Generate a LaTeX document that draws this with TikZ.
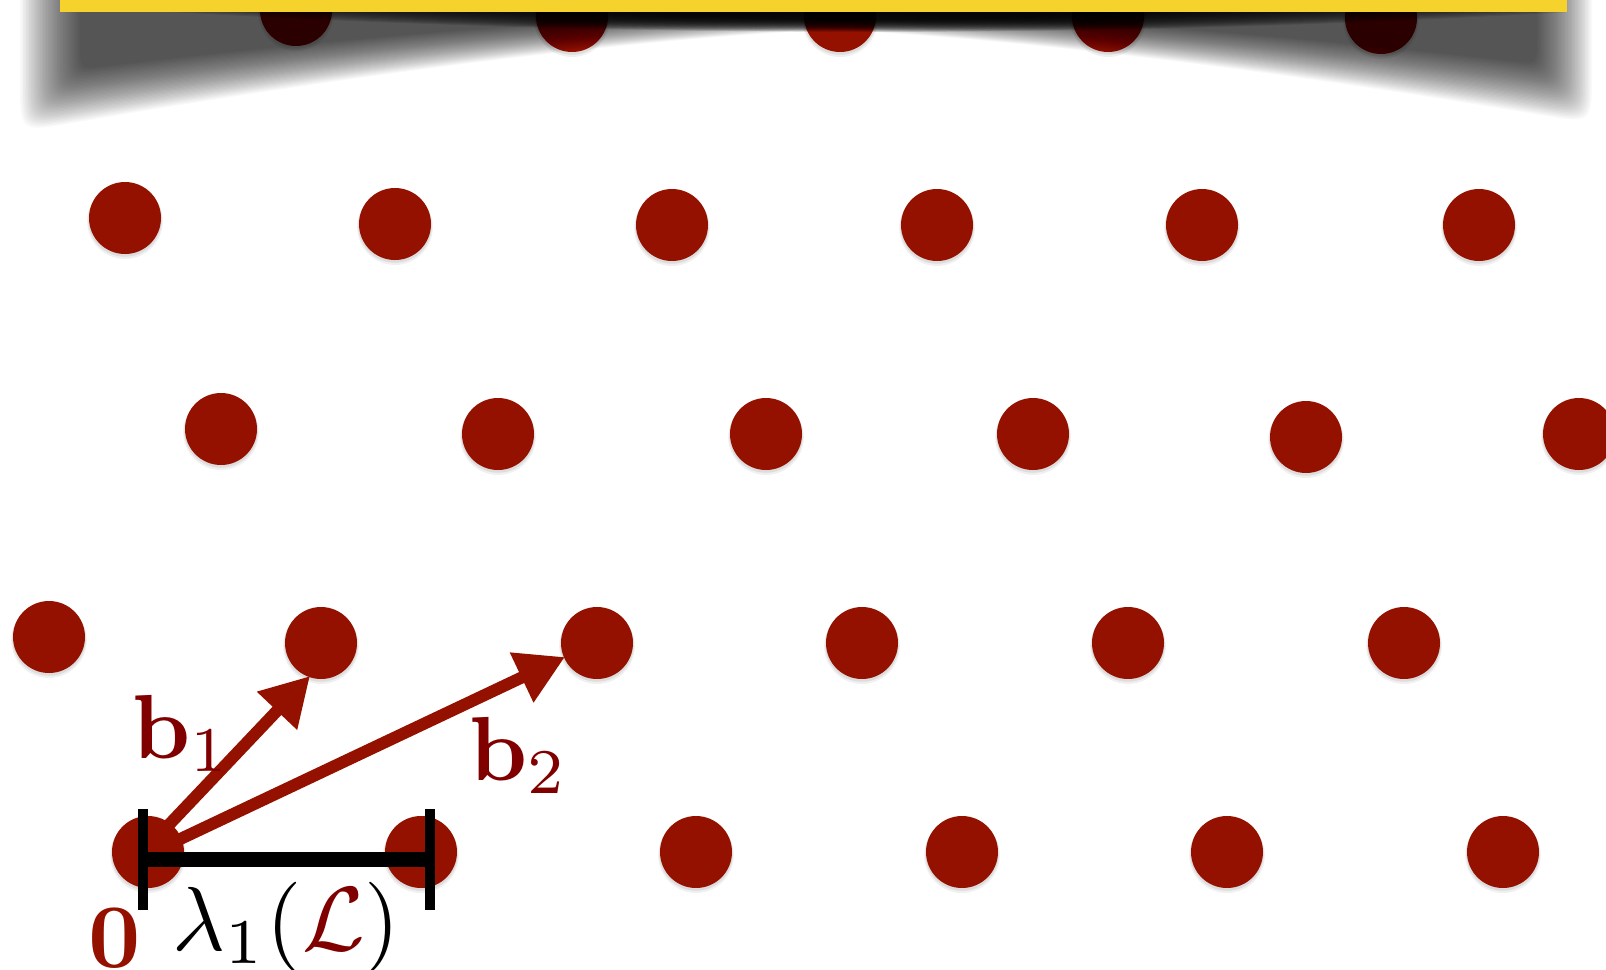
\documentclass[tikz,border=0pt]{standalone}
\usepackage{xcolor}
\usetikzlibrary{arrows.meta,calc,shadows}
\definecolor{cayenne}{HTML}{941100}
\definecolor{labelred}{HTML}{800000}
\definecolor{banana}{HTML}{F6D32C}
\begin{document}
\begin{tikzpicture}[x=1pt,y=-1pt,
  declare function={ua(\x)=abs(\x-830)/740;
                    yb(\x,\t)=22+72*ua(\x)*sqrt(ua(\x))+(8+18*ua(\x))*(2*\t-1);},
  lat/.style={circle, fill=cayenne, minimum size=72pt, inner sep=0pt,
     general shadow={shadow yshift=-3pt, shadow scale=1.05, fill=black, opacity=0.06},
     general shadow={shadow yshift=-2pt, shadow scale=1.02, fill=black, opacity=0.08}},
  vec/.style={draw=cayenne, line width=12pt, -{Triangle[length=48pt,width=52pt,fill=cayenne]}},
  lab/.style={scale=9.1, inner sep=0pt, anchor=base west},
  tickline/.style={draw=black, line width=10pt},
  barline/.style={draw=black, line width=15pt},
]
\useasboundingbox (0,0) rectangle (1606,969);
\clip (0,0) rectangle (1606,969);
\fill[white] (0,0) rectangle (1606,969);

% lattice points
\node[lat] (p11) at (296,10) {};
\node[lat] (p12) at (572,16) {};
\node[lat] (p13) at (840,16) {};
\node[lat] (p14) at (1108,16) {};
\node[lat] (p15) at (1381,18) {};

\node[lat] (p21) at (125,218) {};
\node[lat] (p22) at (395,224) {};
\node[lat] (p23) at (672,225) {};
\node[lat] (p24) at (937,225) {};
\node[lat] (p25) at (1202,225) {};
\node[lat] (p26) at (1479,225) {};

\node[lat] (p31) at (221,429) {};
\node[lat] (p32) at (498,434) {};
\node[lat] (p33) at (766,434) {};
\node[lat] (p34) at (1033,434) {};
\node[lat] (p35) at (1306,437) {};
\node[lat] (p36) at (1579,434) {};

\node[lat] (p41) at (49,637) {};
\node[lat] (p42) at (321,643) {};
\node[lat] (p43) at (597,643) {};
\node[lat] (p44) at (862,643) {};
\node[lat] (p45) at (1128,643) {};
\node[lat] (p46) at (1404,643) {};

\node[lat] (p51) at (148,852) {};
\node[lat] (p52) at (421,852) {};
\node[lat] (p53) at (696,852) {};
\node[lat] (p54) at (962,852) {};
\node[lat] (p55) at (1227,852) {};
\node[lat] (p56) at (1503,852) {};

% basis vectors
\coordinate (b1s) at ($(p51)+(15,-21)$);
\coordinate (b1e) at ($(p42)+(-11,33)$);
\coordinate (b2s) at ($(p51)+(26,-10)$);
\coordinate (b2e) at ($(p43)+(-32,14)$);
\draw[vec] (b1s) -- (b1e);
\draw[vec] (b2s) -- (b2e);

% lambda_1 bar
\coordinate (m0) at (143,859.5);
\coordinate (m1) at (430,859.5);
\draw[barline] (m0) -- (m1);
\draw[tickline] ($(m0)+(0,-50.5)$) -- ($(m0)+(0,50.5)$);
\draw[tickline] ($(m1)+(0,-50.5)$) -- ($(m1)+(0,50.5)$);

% labels
\node[lab, text=labelred] (lb1) at (131,758) {$\mathbf{b}_1$};
\node[lab, text=labelred] (lb2) at (468,780) {$\mathbf{b}_2$};
\node[lab, text=cayenne] (lzero) at (87,967) {$\mathbf{0}$};
\node[lab] (llam) at (171,950) {$\lambda_1(\textcolor{labelred}{\mathcal{L}})$};

% curved shadow under the bar: broad grey part
\foreach \k in {0,...,39}{
  \pgfmathsetmacro{\tt}{\k/39}
  \pgfmathsetmacro{\lx}{80-60*\tt}
  \pgfmathsetmacro{\rx}{1537+55*\tt}
  \pgfmathsetmacro{\rr}{25+25*\tt}
  \pgfmathsetmacro{\xrr}{\rx-\rr}
  \pgfmathsetmacro{\xll}{\lx+\rr}
  \pgfmathsetmacro{\yr}{yb(\rx,\tt)}
  \pgfmathsetmacro{\yl}{yb(\lx,\tt)}
  \pgfmathsetmacro{\yrr}{yb(\xrr,\tt)}
  \pgfmathsetmacro{\yll}{yb(\xll,\tt)}
  \fill[black, fill opacity=0.023]
    (\lx,-20) -- (\rx,-20) -- (\rx,\yr-\rr) .. controls (\rx,\yr) .. (\xrr,\yrr)
    -- plot[domain=\xrr:\xll, samples=50] (\x, {yb(\x,\tt)})
    .. controls (\lx,\yl) .. (\lx,\yl-\rr) -- cycle;
}
% dark central part
\foreach \k in {0,...,19}{
  \pgfmathsetmacro{\tt}{\k/19}
  \pgfmathsetmacro{\ww}{250+450*\tt}
  \pgfmathsetmacro{\hh}{8+12*\tt}
  \pgfmathsetmacro{\xa}{870-\ww}
  \pgfmathsetmacro{\xb}{870+\ww}
  \fill[black, fill opacity=0.1]
    plot[domain=\xa:\xb, samples=40] (\x, {12+\hh*(1-((\x-870)/\ww)^2)}) -- cycle;
}

% yellow bar
\fill[banana] (60,0) rectangle (1567,12);
\end{tikzpicture}
\end{document}
